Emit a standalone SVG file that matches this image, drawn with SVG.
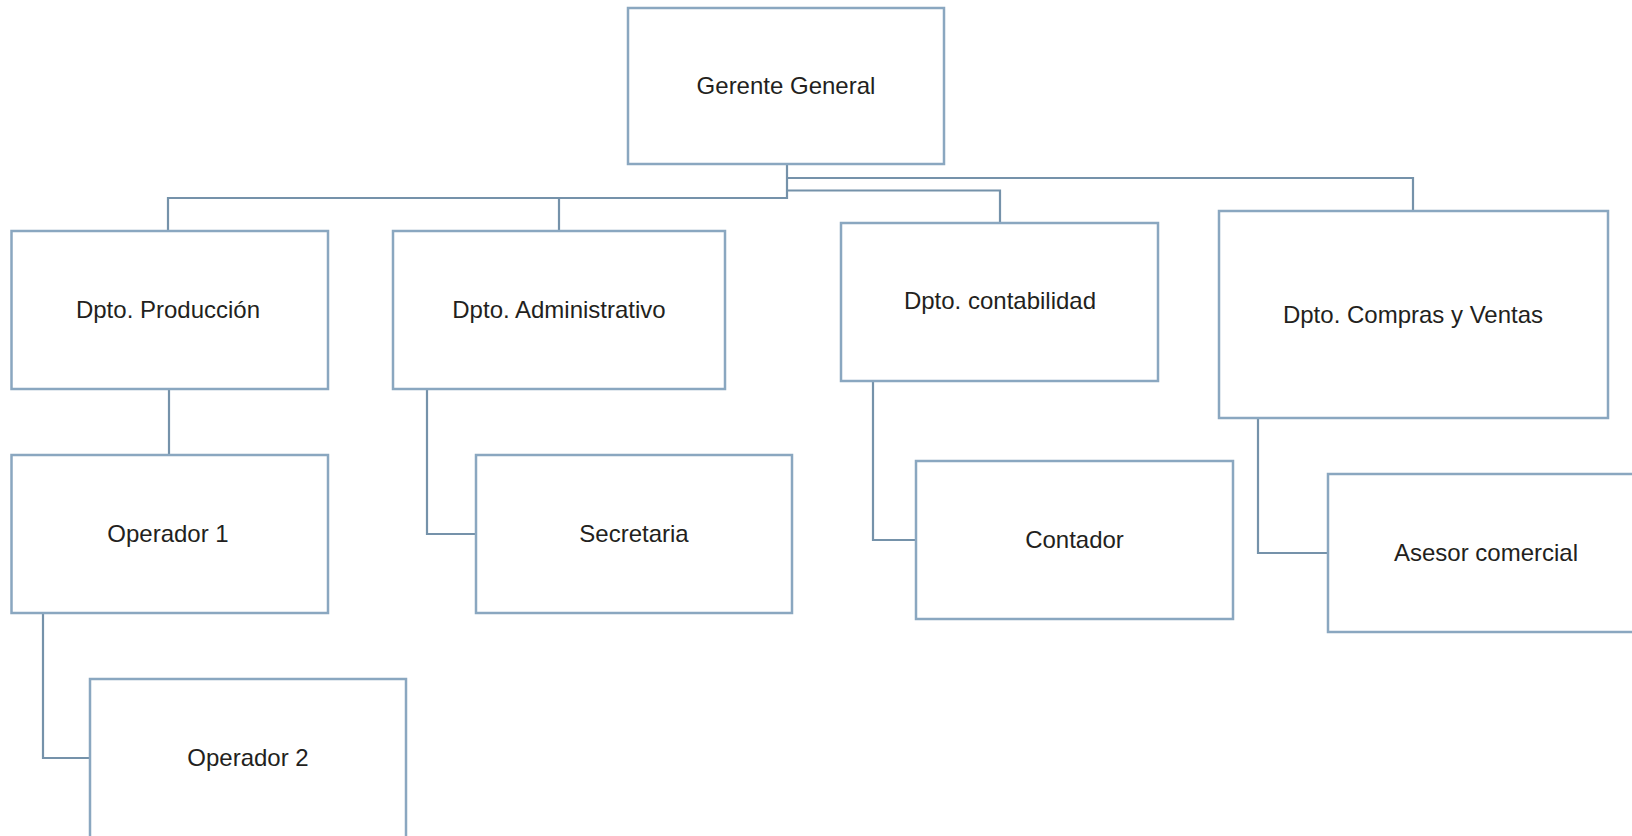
<svg xmlns="http://www.w3.org/2000/svg" width="1632" height="836" viewBox="0 0 1632 836">
<style>
.box{fill:#ffffff;stroke:#8aa7c0;stroke-width:2.5}
.lbl{font-family:"Liberation Sans",Arial,sans-serif;font-size:24px;fill:#231f20;text-anchor:middle}
.con{fill:none;stroke:#7592aa;stroke-width:2.2}
</style>
<rect width="1632" height="836" fill="#ffffff"/>
<g id="connectors">
<polyline class="con" points="787,165 787,198 168,198 168,231"/>
<polyline class="con" points="559,198 559,231"/>
<polyline class="con" points="787,178 1413,178 1413,211"/>
<polyline class="con" points="787,190.5 1000,190.5 1000,223"/>
<polyline class="con" points="169,389 169,455"/>
<polyline class="con" points="427,389 427,534 476,534"/>
<polyline class="con" points="43,613 43,758 90,758"/>
<polyline class="con" points="873,381 873,540 916,540"/>
<polyline class="con" points="1258,418 1258,553 1328,553"/>
</g>
<g id="n-gerente"><rect class="box" x="628" y="8" width="316" height="156"/><text class="lbl" x="786" y="94">Gerente General</text></g>
<g id="n-produccion"><rect class="box" x="11.5" y="231" width="316.5" height="158"/><text class="lbl" x="168" y="318">Dpto. Producción</text></g>
<g id="n-administrativo"><rect class="box" x="393" y="231" width="332" height="158"/><text class="lbl" x="559" y="318">Dpto. Administrativo</text></g>
<g id="n-contabilidad"><rect class="box" x="841" y="223" width="317" height="158"/><text class="lbl" x="1000" y="309">Dpto. contabilidad</text></g>
<g id="n-compras"><rect class="box" x="1219" y="211" width="389" height="207"/><text class="lbl" x="1413" y="323">Dpto. Compras y Ventas</text></g>
<g id="n-operador1"><rect class="box" x="11.5" y="455" width="316.5" height="158"/><text class="lbl" x="168" y="542">Operador 1</text></g>
<g id="n-secretaria"><rect class="box" x="476" y="455" width="316" height="158"/><text class="lbl" x="634" y="542">Secretaria</text></g>
<g id="n-operador2"><rect class="box" x="90" y="679" width="316" height="180"/><text class="lbl" x="248" y="766">Operador 2</text></g>
<g id="n-contador"><rect class="box" x="916" y="461" width="317" height="158"/><text class="lbl" x="1074.5" y="548">Contador</text></g>
<g id="n-asesor"><rect class="box" x="1328" y="474" width="320" height="158"/><text class="lbl" x="1486" y="561">Asesor comercial</text></g>
</svg>
